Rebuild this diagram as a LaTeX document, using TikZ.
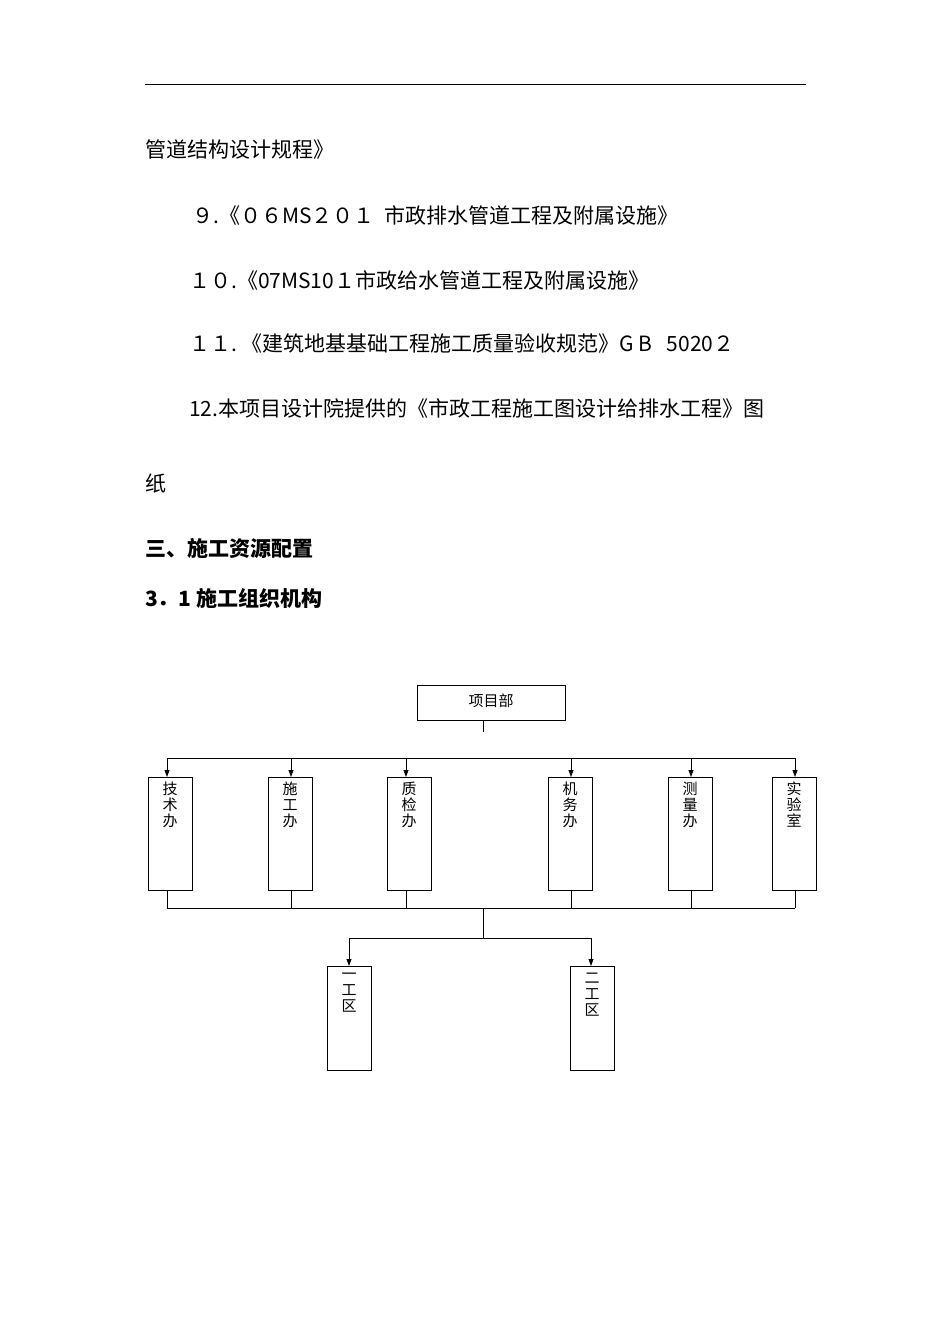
\documentclass[tikz,border=0pt]{standalone}
\usepackage{fontspec}
\newfontfamily\cjk{Noto Sans CJK SC}
\usetikzlibrary{arrows.meta}
\begin{document}
\begin{tikzpicture}[x=1pt,y=-1pt,
  txt/.style={anchor=west,inner sep=0,font=\cjk\fontsize{21}{21}\selectfont},
  hd/.style={anchor=west,inner sep=0,font=\cjk\bfseries\fontsize{21}{21}\selectfont},
  bx/.style={draw,line width=0.9pt,inner sep=0},
  vt/.style={font=\cjk\fontsize{15}{16}\selectfont,align=center,anchor=north,inner sep=0},
  ln/.style={line width=0.8pt},
  ar/.style={line width=0.8pt,-{Triangle[length=7pt,width=5pt]}}]
\useasboundingbox (0,0) rectangle (950,1344);
\fill[white] (0,0) rectangle (950,1344);
\coordinate (r1) at (145,84); \coordinate (r2) at (806,84);
\draw[line width=0.8pt] (r1) -- (r2);
\node[txt] (t1) at (145,150) {管道结构设计规程》};
\node[txt] (t2) at (192,215) {９.《０６MS２０１\ \ 市政排水管道工程及附属设施》};
\node[txt] (t3) at (189,280) {１０.《07MS10１市政给水管道工程及附属设施》};
\node[txt] (t4) at (189,344) {１１.\ 《建筑地基基础工程施工质量验收规范》G B\ \ \ 5020２};
\node[txt] (t5) at (189,408) {12.本项目设计院提供的《市政工程施工图设计给排水工程》图};
\node[txt] (t6) at (145,484) {纸};
\node[hd] (h1) at (145,548) {三、施工资源配置};
\node[hd] (h2) at (145,598) {3．1 施工组织机构};
% top box
\draw[line width=0.9pt] (417,685) rectangle (565,720);
\node[font=\cjk\fontsize{15}{15}\selectfont] (top) at (491,701) {项目部};
\coordinate (a) at (483,720); \coordinate (b) at (483,732);
\draw[ln] (a) -- (b);
\draw[ln] (167,758) -- (795,758);
\foreach \n/\x/\c/\t in {j/148/167/技\\术\\办, s/268/291/施\\工\\办, z/387/406/质\\检\\办, m/548/571/机\\务\\办, c/668/691/测\\量\\办, y/772/795/实\\验\\室}{
  \draw[line width=0.9pt] (\x,777) rectangle (\x+44,890);
  \node[vt] (\n) at (\x+22,782) {\t};
  \draw[ar] (\c,758) -- (\c,777);
  \draw[ln] (\c,890) -- (\c,908);
}
\draw[ln] (167,908) -- (795,908);
\draw[ln] (483,908) -- (483,938);
\draw[ln] (349,938) -- (591,938);
\foreach \n/\x/\c/\t in {g1/327/349/一\\工\\区, g2/570/591/二\\工\\区}{
  \draw[line width=0.9pt] (\x,966) rectangle (\x+44,1070);
  \node[vt] (\n) at (\x+22,973) {\t};
  \draw[ar] (\c,938) -- (\c,966);
}
\end{tikzpicture}
\end{document}
